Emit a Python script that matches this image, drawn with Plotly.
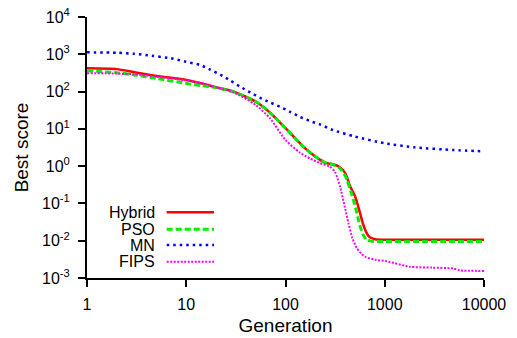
import plotly.graph_objects as go

# ---- data ----
series_names = ["Hybrid", "PSO", "MN", "FIPS"]

hybrid_x = [1, 2, 3, 5, 10, 14, 20, 30, 50, 70, 100, 150, 200, 250, 300, 350, 400, 445, 500, 550, 600, 650, 700, 800, 1000, 2000, 5000, 10000]
hybrid_y = [420, 400, 330, 262, 205, 168, 130, 100, 54, 27, 10.4, 3.4, 1.8, 1.24, 1.12, 0.95, 0.65, 0.3, 0.16, 0.07, 0.03, 0.017, 0.0125, 0.011, 0.0106, 0.0106, 0.0106, 0.0106]

pso_x = [1, 2, 3, 5, 10, 14, 20, 30, 50, 70, 100, 150, 200, 250, 300, 350, 400, 420, 470, 520, 560, 610, 660, 750, 1000, 2000, 5000, 10000]
pso_y = [360, 320, 280, 225, 165, 145, 128, 98, 54, 27, 10.4, 3.4, 1.8, 1.24, 1.1, 0.9, 0.55, 0.4, 0.16, 0.06, 0.026, 0.014, 0.0105, 0.0096, 0.0095, 0.0095, 0.0095, 0.0095]

mn_x = [1, 2, 3, 4.5, 7, 10, 14, 17.4, 22, 28, 35, 44, 55, 70, 88, 110, 140, 176, 222, 300, 500, 1000, 2000, 5000, 10000]
mn_y = [1130, 1100, 1030, 910, 780, 630, 510, 390, 285, 195, 135, 95, 69, 51, 39, 29, 21, 16.2, 13.2, 9.3, 6.2, 4.1, 3.2, 2.7, 2.5]

fips_x = [1, 2, 3, 5, 10, 14, 20, 30, 50, 70, 100, 140, 177, 223, 280, 315, 355, 400, 430, 470, 520, 580, 650, 800, 1050, 1800, 3000, 4900, 5700, 10000]
fips_y = [310, 305, 290, 250, 200, 170, 130, 95, 44, 19, 5.0, 2.3, 1.6, 1.2, 0.97, 0.7, 0.28, 0.07, 0.03, 0.012, 0.0065, 0.0045, 0.0036, 0.0031, 0.0028, 0.002, 0.0019, 0.0018, 0.0016, 0.00155]

x_tick_vals = [1, 10, 100, 1000, 10000]
x_tick_text = ["1", "10", "100", "1000", "10000"]
y_tick_vals = [1e-3, 1e-2, 1e-1, 1, 10, 100, 1000, 10000]
y_tick_text = ["10<sup>-3</sup>", "10<sup>-2</sup>", "10<sup>-1</sup>", "10<sup>0</sup>",
               "10<sup>1</sup>", "10<sup>2</sup>", "10<sup>3</sup>", "10<sup>4</sup>"]

# ---- styles ----
styles = [
    dict(color="#ff0000", width=2.5, dash="solid"),
    dict(color="#00ee00", width=3, dash="6px,3px"),
    dict(color="#0000ff", width=2.5, dash="2.5px,4px"),
    dict(color="#ff00ff", width=2, dash="2px,1.5px"),
]
data = [(hybrid_x, hybrid_y), (pso_x, pso_y), (mn_x, mn_y), (fips_x, fips_y)]

FONT = "Liberation Sans, Arial, sans-serif"
FS = 16

fig = go.Figure()
for name, (xs, ys), st in zip(series_names, data, styles):
    fig.add_trace(go.Scatter(x=xs, y=ys, mode="lines", name=name,
                             line=dict(color=st["color"], width=st["width"], dash=st["dash"],
                                       shape="spline", smoothing=0.6),
                             showlegend=False))

# manual legend (text right-aligned, sample line to the right)
leg_text_x = 0.1756
leg_line_x0, leg_line_x1 = 0.2008, 0.320
leg_rows = [0.2517, 0.1866, 0.1264, 0.0625]
shapes = []
annotations = []
for name, st, yy in zip(series_names, styles, leg_rows):
    shapes.append(dict(type="line", xref="paper", yref="paper",
                       x0=leg_line_x0, x1=leg_line_x1, y0=yy, y1=yy,
                       line=dict(color=st["color"], width=st["width"], dash=st["dash"])))
    annotations.append(dict(xref="paper", yref="paper", x=leg_text_x, y=yy,
                            xanchor="right", yanchor="middle", text=name, showarrow=False,
                            font=dict(family=FONT, size=FS, color="black")))

fig.update_layout(
    width=517, height=338,
    margin=dict(l=87, r=33, t=17, b=60),
    paper_bgcolor="white", plot_bgcolor="white",
    font=dict(family=FONT, size=FS, color="black"),
    shapes=shapes, annotations=annotations,
    xaxis=dict(type="log", range=[0, 4], tickvals=x_tick_vals, ticktext=x_tick_text,
               showgrid=False, zeroline=False, showline=True, linecolor="black", linewidth=2,
               ticks="outside", ticklen=7, tickwidth=1.5, tickcolor="black",
               ticklabelstandoff=4, automargin=False,
               title=dict(text="Generation", standoff=6), mirror=False),
    yaxis=dict(type="log", range=[-3, 4], tickvals=y_tick_vals, ticktext=y_tick_text,
               showgrid=False, zeroline=False, showline=True, linecolor="black", linewidth=2,
               ticks="outside", ticklen=7, tickwidth=1.5, tickcolor="black",
               ticklabelstandoff=5, automargin=False,
               title=dict(text="Best score", standoff=8), mirror=False),
)

fig.write_html("out.html")
